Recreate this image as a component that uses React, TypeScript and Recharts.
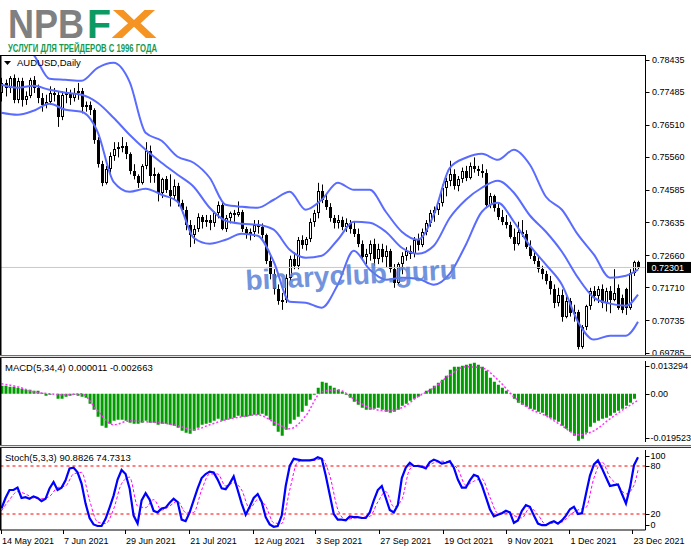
import React from "react";
import { ComposedChart, Bar, Line, XAxis, YAxis, ReferenceLine } from "recharts";

const FONT = "'Liberation Sans', Arial, sans-serif";
const X_DOMAIN: [number, number] = [-0.375, 160.875];

// daily candles, AUDUSD 14 May 2021 .. 23 Dec 2021
const opens = [
  0.7745, 0.7775, 0.776, 0.779, 0.7725, 0.778, 0.7725, 0.7735, 0.7785, 0.776,
  0.773, 0.771, 0.772, 0.7745, 0.774, 0.7675, 0.774, 0.7745, 0.773, 0.7745,
  0.775, 0.7705, 0.771, 0.7695, 0.7605, 0.7535, 0.748, 0.752, 0.756, 0.758,
  0.7585, 0.759, 0.7565, 0.7515, 0.75, 0.748, 0.753, 0.7575, 0.75, 0.7505,
  0.745, 0.749, 0.746, 0.744, 0.747, 0.742, 0.74, 0.7355, 0.7325, 0.7345,
  0.738, 0.7365, 0.737, 0.736, 0.739, 0.7415, 0.7345, 0.7375, 0.739, 0.7385,
  0.7395, 0.7345, 0.733, 0.7335, 0.7355, 0.735, 0.7325, 0.725, 0.721, 0.7165,
  0.713, 0.7135, 0.72, 0.7255, 0.7235, 0.731, 0.7295, 0.7315, 0.7365, 0.739,
  0.7455, 0.743, 0.741, 0.7375, 0.736, 0.737, 0.735, 0.736, 0.7345, 0.733,
  0.73, 0.726, 0.727, 0.73, 0.7255, 0.7285, 0.726, 0.728, 0.7225, 0.7185,
  0.724, 0.7265, 0.728, 0.727, 0.731, 0.7295, 0.7335, 0.736, 0.739, 0.74,
  0.742, 0.7465, 0.7485, 0.7505, 0.747, 0.749, 0.7515, 0.7495, 0.753, 0.752,
  0.7515, 0.751, 0.7415, 0.744, 0.7405, 0.738, 0.7365, 0.7355, 0.732, 0.73,
  0.7335, 0.733, 0.729, 0.7265, 0.725, 0.7225, 0.721, 0.719, 0.7165, 0.7125,
  0.715, 0.7085, 0.713, 0.7095, 0.71, 0.6995, 0.7055, 0.7115, 0.716, 0.7145,
  0.7165, 0.7125, 0.716, 0.7135, 0.717, 0.714, 0.7165, 0.711, 0.7215, 0.7245,
];
const highs = [
  0.779, 0.7785, 0.7795, 0.78, 0.779, 0.779, 0.775, 0.779, 0.7795, 0.777,
  0.7745, 0.774, 0.7765, 0.776, 0.775, 0.775, 0.776, 0.7755, 0.776, 0.7775,
  0.776, 0.772, 0.772, 0.77, 0.7615, 0.7545, 0.753, 0.757, 0.76, 0.76,
  0.7615, 0.76, 0.757, 0.7535, 0.7505, 0.7535, 0.76, 0.759, 0.7525, 0.751,
  0.7495, 0.75, 0.7505, 0.749, 0.748, 0.743, 0.741, 0.737, 0.7355, 0.739,
  0.7385, 0.7385, 0.7385, 0.7395, 0.7425, 0.742, 0.7385, 0.7395, 0.74, 0.7425,
  0.74, 0.735, 0.7345, 0.737, 0.737, 0.736, 0.733, 0.7265, 0.7225, 0.718,
  0.7155, 0.721, 0.7265, 0.7275, 0.732, 0.7325, 0.732, 0.7375, 0.74, 0.748,
  0.7475, 0.745, 0.742, 0.7385, 0.7385, 0.738, 0.7375, 0.737, 0.7365, 0.7345,
  0.731, 0.7285, 0.731, 0.7315, 0.73, 0.73, 0.7295, 0.7285, 0.724, 0.7245,
  0.7275, 0.729, 0.7295, 0.732, 0.733, 0.7345, 0.737, 0.74, 0.741, 0.743,
  0.7475, 0.7495, 0.7545, 0.752, 0.75, 0.7525, 0.753, 0.754, 0.7555, 0.753,
  0.7535, 0.752, 0.745, 0.7445, 0.742, 0.74, 0.7385, 0.7365, 0.7345, 0.7365,
  0.737, 0.734, 0.731, 0.728, 0.7265, 0.7235, 0.722, 0.7205, 0.718, 0.717,
  0.7165, 0.7145, 0.714, 0.712, 0.7105, 0.706, 0.712, 0.717, 0.7175, 0.7175,
  0.718, 0.717, 0.7175, 0.7225, 0.718, 0.715, 0.717, 0.7225, 0.725, 0.725,
];
const lows = [
  0.772, 0.7735, 0.7745, 0.7715, 0.7715, 0.7705, 0.771, 0.773, 0.7745, 0.7715,
  0.769, 0.77, 0.771, 0.772, 0.7645, 0.7665, 0.7715, 0.771, 0.772, 0.7725,
  0.7685, 0.769, 0.768, 0.7595, 0.7525, 0.747, 0.7475, 0.751, 0.7545, 0.7555,
  0.757, 0.755, 0.7505, 0.749, 0.7465, 0.7475, 0.752, 0.748, 0.748, 0.7425,
  0.7435, 0.745, 0.741, 0.743, 0.741, 0.739, 0.734, 0.729, 0.73, 0.7335,
  0.7345, 0.735, 0.734, 0.735, 0.7375, 0.734, 0.7335, 0.736, 0.7365, 0.738,
  0.7335, 0.7315, 0.731, 0.732, 0.733, 0.7315, 0.724, 0.7195, 0.715, 0.712,
  0.7105, 0.7125, 0.719, 0.7225, 0.7225, 0.7285, 0.728, 0.7305, 0.735, 0.7375,
  0.742, 0.74, 0.7365, 0.7345, 0.7345, 0.734, 0.7335, 0.733, 0.732, 0.729,
  0.725, 0.724, 0.725, 0.7235, 0.724, 0.7245, 0.723, 0.7215, 0.717, 0.718,
  0.721, 0.725, 0.7255, 0.726, 0.728, 0.729, 0.7325, 0.735, 0.7365, 0.7385,
  0.741, 0.744, 0.747, 0.746, 0.7455, 0.748, 0.7485, 0.749, 0.751, 0.75,
  0.7495, 0.7405, 0.7405, 0.7395, 0.737, 0.7355, 0.7345, 0.7315, 0.728, 0.7295,
  0.732, 0.7285, 0.7255, 0.724, 0.7215, 0.7195, 0.718, 0.715, 0.711, 0.7115,
  0.707, 0.708, 0.7085, 0.707, 0.6988, 0.699, 0.7045, 0.7105, 0.713, 0.7125,
  0.711, 0.71, 0.7095, 0.713, 0.7105, 0.7095, 0.709, 0.7105, 0.7205, 0.7225,
];
const closes = [
  0.7775, 0.776, 0.779, 0.7725, 0.778, 0.7725, 0.7735, 0.7785, 0.776, 0.773,
  0.771, 0.772, 0.7745, 0.774, 0.7675, 0.774, 0.7745, 0.773, 0.7745, 0.775,
  0.7705, 0.771, 0.7695, 0.7605, 0.7535, 0.748, 0.752, 0.756, 0.758, 0.7585,
  0.759, 0.7565, 0.7515, 0.75, 0.748, 0.753, 0.7575, 0.75, 0.7505, 0.745,
  0.749, 0.746, 0.744, 0.747, 0.742, 0.74, 0.7355, 0.7325, 0.7345, 0.738,
  0.7365, 0.737, 0.736, 0.739, 0.7415, 0.7345, 0.7375, 0.739, 0.7385, 0.7395,
  0.7345, 0.733, 0.7335, 0.7355, 0.735, 0.7325, 0.725, 0.721, 0.7165, 0.713,
  0.7135, 0.72, 0.7255, 0.7235, 0.731, 0.7295, 0.7315, 0.7365, 0.739, 0.7455,
  0.743, 0.741, 0.7375, 0.736, 0.737, 0.735, 0.736, 0.7345, 0.733, 0.73,
  0.726, 0.727, 0.73, 0.7255, 0.7285, 0.726, 0.728, 0.7225, 0.7185, 0.724,
  0.7265, 0.728, 0.727, 0.731, 0.7295, 0.7335, 0.736, 0.739, 0.74, 0.742,
  0.7465, 0.7485, 0.7505, 0.747, 0.749, 0.7515, 0.7495, 0.753, 0.752, 0.7515,
  0.751, 0.7415, 0.744, 0.7405, 0.738, 0.7365, 0.7355, 0.732, 0.73, 0.7335,
  0.733, 0.729, 0.7265, 0.725, 0.7225, 0.721, 0.719, 0.7165, 0.7125, 0.715,
  0.7085, 0.713, 0.7095, 0.71, 0.6995, 0.7055, 0.7115, 0.716, 0.7145, 0.7165,
  0.7125, 0.716, 0.7135, 0.7155, 0.711, 0.7105, 0.711, 0.7215, 0.7245, 0.72301,
];

// Bollinger bands, read every 4th bar
const bandIdx = [
  0, 4, 8, 12, 16, 20, 24, 28, 32, 36, 40, 44, 48, 52, 56, 60, 64, 68, 72, 76, 80,
  84, 88, 92, 96, 100, 104, 108, 112, 116, 120, 124, 128, 132, 136, 140, 144, 148,
  152, 156, 159,
];
const bandUpper = [
  0.78784, 0.78843, 0.78578, 0.7787, 0.7784, 0.77811, 0.78194, 0.78342, 0.77781,
  0.76277, 0.7604, 0.75569, 0.75392, 0.74949, 0.74153, 0.74094, 0.74064, 0.743,
  0.74536, 0.74005, 0.743, 0.74802, 0.74595, 0.74595, 0.73946, 0.73356, 0.7312,
  0.73858, 0.75244, 0.75539, 0.75657, 0.7548, 0.75775, 0.75333, 0.74389, 0.74005,
  0.73268, 0.72678, 0.71999, 0.72058, 0.72235,
];
const bandMiddle = [
  0.77693, 0.77604, 0.77663, 0.77545, 0.77457, 0.77398, 0.77162, 0.76719, 0.76218,
  0.75775, 0.75392, 0.75038, 0.74684, 0.74064, 0.73681, 0.73592, 0.73563, 0.73415,
  0.72825, 0.72589, 0.72648, 0.7312, 0.73651, 0.73622, 0.73356, 0.72884, 0.72707,
  0.72943, 0.73769, 0.743, 0.74654, 0.7486, 0.74507, 0.73835, 0.73356, 0.72766,
  0.71999, 0.71409, 0.71232, 0.71173, 0.71498,
];
const bandLower = [
  0.76867, 0.76808, 0.76926, 0.77132, 0.76955, 0.76896, 0.76306, 0.74831, 0.74536,
  0.74625, 0.74448, 0.74241, 0.73179, 0.73002, 0.7312, 0.73297, 0.73238, 0.72471,
  0.71291, 0.71262, 0.71114, 0.71793, 0.72796, 0.72235, 0.7194, 0.71999, 0.7197,
  0.71793, 0.72117, 0.72973, 0.73946, 0.74212, 0.73651, 0.72943, 0.72383, 0.71793,
  0.70701, 0.7017, 0.70288, 0.70288, 0.70701,
];

const priceTicks = [
  0.78435, 0.77485, 0.7651, 0.7556, 0.74585, 0.73635, 0.7266, 0.7171, 0.70735, 0.69785,
];
const lastPrice = 0.72301;

// MACD(5,34,4)
const macdHist = [
  0.00324, 0.00324, 0.00284, 0.00284, 0.00243, 0.00203, 0.00162, 0.00162, 0.00122, 0.00122,
  0.00041, -0.00081, -0.00041, 0.0, -0.00203, -0.00203, -0.00122, -0.00081, -0.00041, -0.00081,
  -0.00122, -0.00162, -0.00405, -0.00648, -0.00932, -0.01296, -0.01377, -0.01215, -0.01094, -0.01053,
  -0.01053, -0.01094, -0.01175, -0.01215, -0.01215, -0.01175, -0.01094, -0.01175, -0.01175, -0.01256,
  -0.01215, -0.01215, -0.01256, -0.01296, -0.01377, -0.01499, -0.0158, -0.0162, -0.01499, -0.01377,
  -0.01256, -0.01215, -0.01175, -0.01094, -0.01013, -0.01094, -0.01053, -0.01013, -0.00972, -0.00891,
  -0.00932, -0.00932, -0.00891, -0.00851, -0.00851, -0.0081, -0.00891, -0.01053, -0.01296, -0.01539,
  -0.01701, -0.01458, -0.01215, -0.01053, -0.00932, -0.00729, -0.00486, -0.00243, -0.00041, 0.00243,
  0.00486, 0.00446, 0.00324, 0.00243, 0.00162, 0.00081, -0.00041, -0.00162, -0.00324, -0.00446,
  -0.00567, -0.00648, -0.00648, -0.00608, -0.00567, -0.00648, -0.00729, -0.0077, -0.00729, -0.00648,
  -0.00486, -0.00405, -0.00284, -0.00203, -0.00122, 0.0001, 0.00122, 0.00203, 0.00324, 0.00446,
  0.00567, 0.00729, 0.00972, 0.01094, 0.01094, 0.01134, 0.01175, 0.01215, 0.01256, 0.01175,
  0.01094, 0.00932, 0.00648, 0.00486, 0.00365, 0.00243, 0.00122, 0.0001, -0.00203, -0.00365,
  -0.00446, -0.00527, -0.00608, -0.00648, -0.00729, -0.0077, -0.00891, -0.00972, -0.01053, -0.01134,
  -0.01296, -0.01418, -0.01539, -0.01701, -0.01904, -0.01823, -0.0158, -0.01337, -0.01175, -0.01094,
  -0.01013, -0.00972, -0.00891, -0.0077, -0.00689, -0.00608, -0.00486, -0.00365, -0.00203, 0.000011,
];
const macdSignal = [
  0.00405, 0.00284, 0.00081, 0.0, -0.00041, 0.0, -0.00689, -0.01256, -0.01094, -0.01134,
  -0.01175, -0.01296, -0.01458, -0.01256, -0.01053, -0.00932, -0.00851, -0.01134, -0.01418,
  -0.00891, 0.00081, 0.00162, -0.00203, -0.00567, -0.00689, -0.00567, -0.00122, 0.00243,
  0.0077, 0.01094, 0.01053, 0.00567, -0.00122, -0.00608, -0.00891, -0.01296, -0.0166,
  -0.01499, -0.01013, -0.00567, -0.002663,
];
const macdTicks = [0.013294, 0, -0.019523];

// Stochastic(5,3,3)
const stochMain = [
  27, 40, 50, 50, 53, 40, 41, 39, 42, 40, 36, 39, 52, 60, 50, 53, 62, 77, 78, 72,
  58, 33, 15, 7, 5, 5, 14, 28, 43, 63, 75, 70, 52, 18, 8, 37, 46, 38, 24, 22,
  27, 28, 34, 39, 35, 13, 11, 22, 37, 52, 65, 70, 73, 72, 63, 52, 51, 58, 67, 50,
  33, 19, 29, 40, 45, 35, 16, 7, 4, 5, 18, 55, 80, 89, 88, 87, 87, 87, 88, 91,
  89, 68, 44, 20, 13, 13, 12, 17, 16, 16, 15, 15, 22, 37, 50, 55, 40, 25, 22, 31,
  65, 78, 84, 80, 80, 79, 77, 85, 88, 86, 83, 84, 86, 78, 63, 53, 53, 62, 69, 67,
  56, 41, 26, 17, 19, 21, 24, 22, 9, 12, 24, 31, 29, 18, 8, 6, 6, 9, 11, 8,
  12, 18, 26, 29, 20, 21, 45, 68, 82, 87, 77, 66, 55, 56, 57, 45, 33, 53, 81, 90.8826,
];
const stochSigIdx = [
  0, 2, 4, 6, 8, 10, 12, 14, 16, 18, 20, 22, 24, 26, 28, 30, 32, 34, 36, 38, 40, 42,
  44, 46, 48, 50, 52, 54, 56, 58, 60, 62, 64, 66, 68, 70, 72, 74, 76, 78, 80, 82, 84,
  86, 88, 90, 92, 94, 96, 98, 100, 102, 104, 106, 108, 110, 112, 114, 116, 118, 120,
  122, 124, 126, 128, 130, 132, 134, 136, 138, 140, 142, 144, 146, 148, 150, 152, 154,
  156, 158, 159,
];
const stochSignal = [
  24, 38, 48, 45, 40, 39, 42, 53, 55, 70, 72, 37, 10, 8, 26, 58, 66, 30, 28, 38, 25, 30,
  36, 22, 22, 50, 70, 70, 55, 59, 50, 27, 38, 30, 9, 8, 50, 85, 87, 87, 89, 68, 26,
  13, 15, 16, 17, 35, 48, 29, 38, 76, 81, 79, 84, 86, 84, 76, 56, 61, 64,
  41, 21, 21, 18, 15, 28, 19, 7, 9, 10, 19, 25, 28, 65, 85, 66, 56,
  45, 56, 74.7313,
];
const stochTicks = [100, 80, 20, 0];

const dateLabels = [
  "14 May 2021", "7 Jun 2021", "29 Jun 2021", "21 Jul 2021", "12 Aug 2021", "3 Sep 2021",
  "27 Sep 2021", "19 Oct 2021", "9 Nov 2021", "1 Dec 2021", "23 Dec 2021",
];
const dateTicks = [0, 15.5, 31, 47, 63, 78.5, 94.5, 110.5, 126.25, 142, 157.75];

const candles = closes.map((c, i) => ({
  i,
  o: opens[i],
  h: highs[i],
  l: lows[i],
  c,
  range: [lows[i], highs[i]],
}));
const bands = bandIdx.map((i, k) => ({ i, up: bandUpper[k], mid: bandMiddle[k], lo: bandLower[k] }));
const macdData = macdHist.map((v, i) => ({ i, v }));
const macdSigData = bandIdx.map((i, k) => ({ i, s: macdSignal[k] }));
const stochData = stochMain.map((v, i) => ({ i, v }));
const stochSigData = stochSigIdx.map((i, k) => ({ i, s: stochSignal[k] }));

const BAND = "#5a6cff";

const Candle = (props: any) => {
  const { x, y, width, height, payload } = props;
  if (!payload || height == null) return null;
  const { o, c, h, l } = payload;
  const ppu = height / (h - l || 1e-9);
  const px = Math.round(x + width / 2 - 0.5);
  const yO = y + (h - o) * ppu;
  const yC = y + (h - c) * ppu;
  const top = Math.round(Math.min(yO, yC));
  const bot = Math.round(Math.max(yO, yC));
  const up = c >= o;
  return (
    <g>
      <line x1={px + 0.5} x2={px + 0.5} y1={y} y2={y + height} stroke="#000" strokeWidth={1} />
      {up ? (
        <rect x={px - 0.5} y={top + 0.5} width={2} height={Math.max(bot - top - 1, 1)} fill="#fff" stroke="#000" strokeWidth={1} />
      ) : (
        <rect x={px - 1} y={top} width={3} height={Math.max(bot - top, 1)} fill="#000" />
      )}
    </g>
  );
};

const PriceTick = (props: any) => {
  const { x, y, payload } = props;
  return (
    <g>
      <line x1={x} x2={x + 4} y1={Math.round(y) + 0.5} y2={Math.round(y) + 0.5} stroke="#000" />
      <text x={x + 6.5} y={y + 3.3} fontSize={9} fontFamily={FONT} fill="#000">
        {payload.value.toFixed(5)}
      </text>
    </g>
  );
};

const MacdTick = (props: any) => {
  const { x, y, payload } = props;
  const v = payload.value;
  const label = v === 0 ? "0.00" : v.toFixed(6);
  const dy = v > 0 ? 5 : v < 0 ? -4 : 0;
  return (
    <g>
      <line x1={x} x2={x + 4} y1={Math.round(y + dy) + 0.5} y2={Math.round(y + dy) + 0.5} stroke="#000" />
      <text x={x + 5} y={y + dy + 3.3} fontSize={9} fontFamily={FONT} fill="#000">
        {label}
      </text>
    </g>
  );
};

const StochTick = (props: any) => {
  const { x, y, payload } = props;
  const v = payload.value;
  const dy = v === 100 ? 5.5 : v === 0 ? -5.5 : 0;
  return (
    <g>
      <line x1={x} x2={x + 4} y1={Math.round(y + dy) + 0.5} y2={Math.round(y + dy) + 0.5} stroke="#000" />
      <text x={x + 5} y={y + dy + 3.3} fontSize={9} fontFamily={FONT} fill="#000">
        {v}
      </text>
    </g>
  );
};

const DateTick = (props: any) => {
  const { x, y, payload } = props;
  const k = dateTicks.indexOf(payload.value);
  const px = Math.round(x) - 0.5;
  return (
    <g>
      <line x1={px} x2={px} y1={y} y2={y + 4} stroke="#000" />
      <text x={x + 0.5} y={y + 14} fontSize={9} fontFamily={FONT} fill="#000">
        {dateLabels[k]}
      </text>
    </g>
  );
};

const PriceBox = (props: any) => {
  const vb = props.viewBox || {};
  const yy = vb.y ?? 0;
  const xr = (vb.x ?? 0) + (vb.width ?? 0);
  return (
    <g>
      <rect x={xr + 1.5} y={yy - 5.5} width={45} height={11} fill="#000" />
      <text x={xr + 6} y={yy + 3.3} fontSize={9} fontFamily={FONT} fill="#fff">
        {lastPrice.toFixed(5)}
      </text>
    </g>
  );
};

export default function App() {
  return (
    <div style={{ position: "absolute", left: 0, top: 0, width: 691, height: 549, background: "#fff", overflow: "hidden" }}>
      {/* logo */}
      <svg width={691} height={56} style={{ position: "absolute", left: 0, top: 0 }}>
        <text x={8} y={38} fontSize={40} fontWeight="bold" fontFamily={FONT} fill="#808080" textLength={76} lengthAdjust="spacingAndGlyphs">
          NPB
        </text>
        <text x={87} y={38} fontSize={40} fontWeight="bold" fontFamily={FONT} fill="#0a9a62" textLength={24} lengthAdjust="spacingAndGlyphs">
          F
        </text>
        <text x={111} y={38} fontSize={40} fontWeight="bold" fontFamily={FONT} fill="#f59423" textLength={46} lengthAdjust="spacingAndGlyphs">
          X
        </text>
        <text x={8} y={51.5} fontSize={11.5} fontWeight="bold" fontFamily={FONT} fill="#17994f" textLength={149} lengthAdjust="spacingAndGlyphs">
          УСЛУГИ ДЛЯ ТРЕЙДЕРОВ С 1996 ГОДА
        </text>
      </svg>

      {/* main price window */}
      <div style={{ position: "absolute", left: 0, top: 56 }}>
        <ComposedChart width={691} height={299} data={candles} margin={{ top: 0, right: 0, bottom: 0, left: 0 }}>
          <XAxis dataKey="i" type="number" domain={X_DOMAIN} hide allowDataOverflow />
          <YAxis
            orientation="right"
            width={45.5}
            domain={[0.69716, 0.78544]}
            ticks={priceTicks}
            interval={0}
            allowDataOverflow
            axisLine={{ stroke: "#000" }}
            tickLine={false}
            tickSize={0}
            tickMargin={0}
            tick={<PriceTick />}
          />
          <ReferenceLine y={lastPrice} stroke="#c8c8c8" strokeWidth={1} label={<PriceBox />} />
          <Bar dataKey="range" barSize={3} isAnimationActive={false} shape={(p: any) => <Candle {...p} />} />
          <Line data={bands} dataKey="up" type="monotone" stroke={BAND} strokeWidth={2} dot={false} activeDot={false} isAnimationActive={false} />
          <Line data={bands} dataKey="mid" type="monotone" stroke={BAND} strokeWidth={2} dot={false} activeDot={false} isAnimationActive={false} />
          <Line data={bands} dataKey="lo" type="monotone" stroke={BAND} strokeWidth={2} dot={false} activeDot={false} isAnimationActive={false} />
        </ComposedChart>
      </div>

      {/* MACD window */}
      <div style={{ position: "absolute", left: 0, top: 361 }}>
        <ComposedChart width={691} height={81} data={macdData} margin={{ top: 0, right: 0, bottom: 0, left: 0 }}>
          <XAxis dataKey="i" type="number" domain={X_DOMAIN} hide allowDataOverflow />
          <YAxis
            orientation="right"
            width={45.5}
            domain={[-0.019523, 0.013294]}
            ticks={macdTicks}
            interval={0}
            allowDataOverflow
            axisLine={{ stroke: "#000" }}
            tickLine={false}
            tickSize={0}
            tickMargin={0}
            tick={<MacdTick />}
          />
          <Bar dataKey="v" barSize={3} fill="#009c00" isAnimationActive={false} />
          <Line data={macdSigData} dataKey="s" type="monotone" stroke="#ff30ff" strokeWidth={1.5} strokeDasharray="2 2" dot={false} activeDot={false} isAnimationActive={false} />
        </ComposedChart>
      </div>

      {/* Stochastic window */}
      <div style={{ position: "absolute", left: 0, top: 449.5 }}>
        <ComposedChart width={691} height={99} data={stochData} margin={{ top: 0, right: 0, bottom: 0, left: 0 }}>
          <XAxis
            dataKey="i"
            type="number"
            domain={X_DOMAIN}
            allowDataOverflow
            ticks={dateTicks}
            interval={0}
            height={19}
            axisLine={{ stroke: "#000" }}
            tickLine={false}
            tickSize={0}
            tickMargin={0}
            tick={<DateTick />}
          />
          <YAxis
            orientation="right"
            width={45.5}
            domain={[0, 100]}
            ticks={stochTicks}
            interval={0}
            allowDataOverflow
            axisLine={{ stroke: "#000" }}
            tickLine={false}
            tickSize={0}
            tickMargin={0}
            tick={<StochTick />}
          />
          <ReferenceLine y={80} stroke="#ff0000" strokeDasharray="3 3" />
          <ReferenceLine y={20} stroke="#ff0000" strokeDasharray="3 3" />
          <Line data={stochSigData} dataKey="s" type="monotone" stroke="#ff00ff" strokeWidth={1} strokeDasharray="3 2" dot={false} activeDot={false} isAnimationActive={false} />
          <Line dataKey="v" type="linear" stroke="#0000ff" strokeWidth={2.2} dot={false} activeDot={false} isAnimationActive={false} />
        </ComposedChart>
      </div>

      {/* frame, labels, watermark */}
      <svg width={691} height={549} style={{ position: "absolute", left: 0, top: 0, pointerEvents: "none" }}>
        <line x1={0} x2={646} y1={55.5} y2={55.5} stroke="#000" />
        <rect x={0} y={56} width={1.5} height={474} fill="#000" />
        <line x1={0} x2={691} y1={355.5} y2={355.5} stroke="#707070" />
        <rect x={0} y={356} width={691} height={1} fill="#e2e2e2" />
        <line x1={0} x2={691} y1={357.5} y2={357.5} stroke="#303030" />
        <line x1={0} x2={691} y1={445.5} y2={445.5} stroke="#707070" />
        <rect x={0} y={446} width={691} height={1} fill="#e2e2e2" />
        <line x1={0} x2={691} y1={447.5} y2={447.5} stroke="#303030" />

        <path d="M4 61 L11 61 L7.5 65 Z" fill="#000" />
        <text x={17} y={66} fontSize={9.5} fontFamily={FONT} fill="#000">
          AUDUSD,Daily
        </text>
        <text x={5} y={371} fontSize={9.5} fontFamily={FONT} fill="#000">
          MACD(5,34,4) 0.000011 -0.002663
        </text>
        <text x={5} y={460.5} fontSize={9.5} fontFamily={FONT} fill="#000">
          Stoch(5,3,3) 90.8826 74.7313
        </text>

        <text
          x={246}
          y={290}
          fontSize={28}
          fontWeight="bold"
          fontFamily={FONT}
          fill="#5a82d8"
          opacity={0.85}
          transform="rotate(-3 246 290)"
        >
          binaryclub.guru
        </text>
      </svg>
    </div>
  );
}
